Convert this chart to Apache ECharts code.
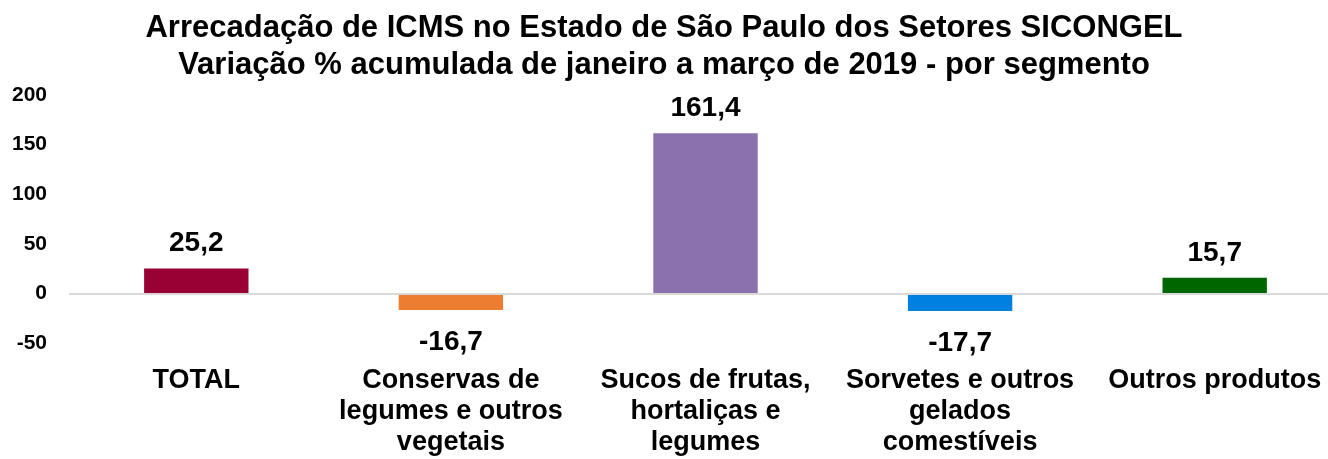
<!DOCTYPE html>
<html>
<head>
<meta charset="utf-8">
<script src="https://cdn.jsdelivr.net/npm/echarts@6/dist/echarts.min.js"></script>
<style>
html,body{margin:0;padding:0;background:#fff;}
#chart{width:1328px;height:459px;}
</style>
</head>
<body>
<div id="chart"></div>
<script>
const titleLines = [
  "Arrecadação de ICMS no Estado de São Paulo dos Setores SICONGEL",
  "Variação % acumulada de janeiro a março de 2019 - por segmento"
];
const categories = [
  "TOTAL",
  "Conservas de\nlegumes e outros\nvegetais",
  "Sucos de frutas,\nhortaliças e\nlegumes",
  "Sorvetes e outros\ngelados\ncomestíveis",
  "Outros produtos"
];
const values = [25.2, -16.7, 161.4, -17.7, 15.7];
const barColors = ["#990033", "#ED7D31", "#8B72AE", "#0080E0", "#006600"];
const yTicks = { min: -50, max: 200, interval: 50 };

const FONT = "'Liberation Sans', Arial, sans-serif";
const chart = echarts.init(document.getElementById('chart'), null, {renderer: 'canvas'});

chart.setOption({
  animation: false,
  backgroundColor: '#ffffff',
  title: {
    text: titleLines.join('\n'),
    left: 'center',
    top: 5,
    textStyle: {
      fontFamily: FONT, fontWeight: 'bold', fontSize: 31, lineHeight: 37, color: '#000'
    }
  },
  grid: { left: 69, width: 1273, top: 95, bottom: 116, containLabel: false, outerBoundsMode: 'none' },
  xAxis: {
    type: 'category',
    data: categories,
    axisLine: { show: false, onZero: false },
    axisTick: { show: false },
    axisLabel: {
      interval: 0,
      margin: 22,
      fontFamily: FONT, fontWeight: 'bold', fontSize: 27, lineHeight: 31, color: '#000'
    },
    splitLine: { show: false }
  },
  yAxis: {
    type: 'value',
    min: yTicks.min, max: yTicks.max, interval: yTicks.interval,
    axisLine: { show: false },
    axisTick: { show: false },
    splitLine: { show: false },
    axisLabel: {
      margin: 22,
      fontFamily: FONT, fontWeight: 'bold', fontSize: 21, color: '#000'
    }
  },
  series: [{
    type: 'bar',
    barWidth: '41%',
    data: values.map((v, i) => ({
      value: v,
      itemStyle: { color: barColors[i] },
      label: { position: v >= 0 ? 'top' : 'bottom', distance: v >= 0 ? 11 : 18 }
    })),
    label: {
      show: true,
      fontFamily: FONT, fontWeight: 'bold', fontSize: 28, color: '#000',
      formatter: p => p.value.toFixed(1).replace('.', ',')
    },
    markLine: {
      silent: true,
      symbol: 'none',
      label: { show: false },
      lineStyle: { color: '#D9D9D9', width: 2, type: 'solid' },
      data: [{ yAxis: 0 }]
    },
    z: 3
  }]
});
</script>
</body>
</html>
